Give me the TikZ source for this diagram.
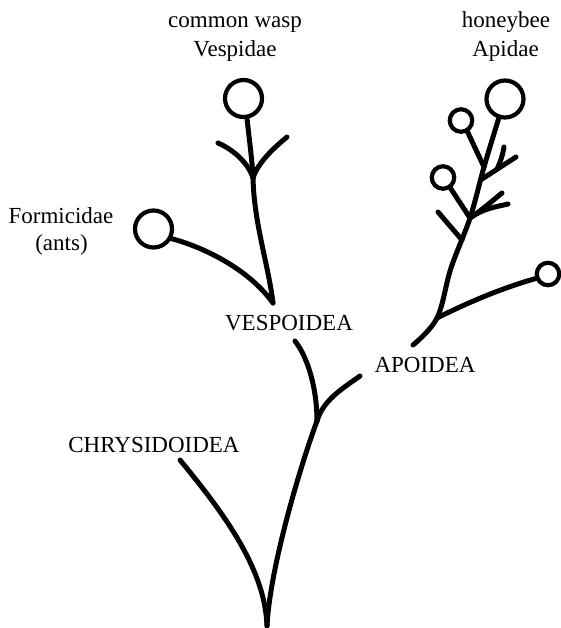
\documentclass[tikz,border=0pt]{standalone}
\usepackage{fontspec}
\setmainfont{Liberation Serif}
\usetikzlibrary{calc}
\begin{document}
\begin{tikzpicture}[x=1pt,y=-1pt,
  br/.style={line width=5pt,line cap=round,line join=round},
  bud/.style={circle,draw,line width=4.2pt,inner sep=0pt},
  bigbud/.style={bud,minimum size=37pt},
  smallbud/.style={bud,minimum size=22.5pt},
  lab/.style={font=\fontsize{23}{27}\selectfont,anchor=base,inner sep=0pt}]
\useasboundingbox (0,0) rectangle (561,628);
% coordinates
\coordinate (B) at (267,626);
\coordinate (J1) at (317,421);
\coordinate (C0) at (180,460);
\coordinate (V0) at (295,341);
\coordinate (A0) at (360,376);
\coordinate (V1) at (273,303);
\coordinate (J2) at (253,178);
\coordinate (WL) at (218,143);
\coordinate (WR) at (287,137);
\node[bigbud] (W) at (243.5,98.5) {};
\node[bigbud] (F) at (153.5,229) {};
\node[bigbud] (H) at (505,99) {};
\node[smallbud] (S1) at (461,120.5) {};
\node[smallbud] (S2) at (443,177.5) {};
\node[smallbud] (S3) at (548,274) {};
\coordinate (J5) at (484,167);
\coordinate (J4) at (470,218);
\coordinate (M) at (451,268);
\coordinate (J3) at (437,318);
\coordinate (A1) at (413,345);
\coordinate (K1) at (480.5,180);
\coordinate (E1) at (516,157);
\coordinate (K2) at (497,169);
\coordinate (E2) at (504,147);
\coordinate (E3) at (502,193);
\coordinate (E4) at (508,204);
\coordinate (L3) at (438,212);
\coordinate (K3) at (462,240);
% lower tree
\draw[br] (B) .. controls +(3,-60) and +(-15,40) .. (J1);
\draw[br] (C0) .. controls +(48,58) and +(-2,-55) .. (B);
\draw[br] (V0) .. controls +(14,18) and +(0,-30) .. (J1);
\draw[br] (A0) .. controls +(-20,14) and +(6,-20) .. (J1);
% vespoid
\draw[br] (F.-28) .. controls +(30,8) and +(-25,-35) .. (V1);
\draw[br] (W.-80) .. controls +(2,20) and +(-1,-20) .. (J2) .. controls +(1,45) and +(-5,-40) .. (V1);
\draw[br] (WL) .. controls +(14,6) and +(-5,-16) .. (J2);
\draw[br] (WR) .. controls +(-12,10) and +(5,-16) .. (J2);
% apoid
\draw[br] plot[smooth,tension=0.6] coordinates {(H.-108) (J5) (J4) (M) (J3) (A1)};
\draw[br] (S1.-60) -- (J5);
\draw[br] (S2.-55) -- (J4);
\draw[br] (K1) -- (E1);
\draw[br] (K2) .. controls +(4,-8) and +(-1,6) .. (E2);
\draw[br] (J4) .. controls +(12,-8) and +(-10,8) .. (E3);
\draw[br] (J4) .. controls +(14,-10) and +(-12,3) .. (E4);
\draw[br] (L3) -- (K3);
\draw[br] (S3.-160) .. controls +(-35,10) and +(30,-15) .. (J3);
% labels
\node[lab] (t1) at (235,28) {common wasp};
\node[lab] (t2) at (235,57) {Vespidae};
\node[lab] (t3) at (506,28) {honeybee};
\node[lab] (t4) at (505.5,57) {Apidae};
\node[lab] (t5) at (61,223) {Formicidae};
\node[lab] (t6) at (61.5,250) {(ants)};
\node[lab] (t7) at (154,452) {CHRYSIDOIDEA};
\node[lab] (t8) at (289,330) {VESPOIDEA};
\node[lab] (t9) at (425,372) {APOIDEA};
\end{tikzpicture}
\end{document}
